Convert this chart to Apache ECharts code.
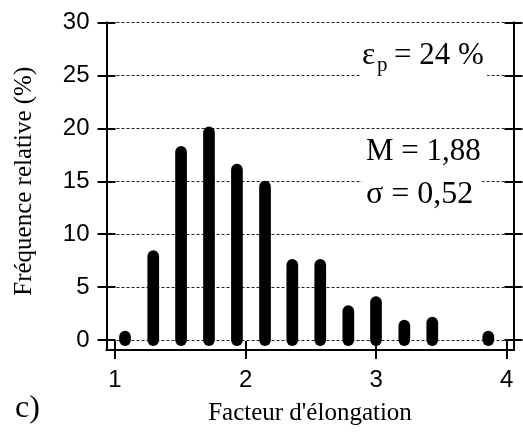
<!DOCTYPE html>
<html>
<head>
<meta charset="utf-8">
<script src="https://cdn.jsdelivr.net/npm/echarts@6/dist/echarts.min.js"></script>
<style>
html,body{margin:0;padding:0;background:#fff;}
#chart{width:523px;height:432px;}
</style>
</head>
<body>
<div id="chart"></div>
<script>
// ---- data ----
const elongation = [1.077, 1.293, 1.506, 1.720, 1.934, 2.149, 2.358, 2.572, 2.787, 2.999, 3.216, 3.430, 3.859];
const frequency  = [0.33, 7.92, 17.78, 19.62, 16.10, 14.49, 7.10, 7.10, 2.74, 3.59, 1.37, 1.65, 0.33];
const xTicks = [1, 2, 3, 4];
const yTicks = [0, 5, 10, 15, 20, 25, 30];
const xTitle = "Facteur d'élongation";
const yTitle = "Fréquence relative (%)";
const panelLabel = "c)";
const annotEps = ["ε", "p", "= 24 %"];
const annotM = "M = 1,88";
const annotS = "σ = 0,52";

const chart = echarts.init(document.getElementById('chart'), null, {renderer: 'canvas'});
const serif = "'Liberation Serif', 'Times New Roman', serif";
const sans = "'Liberation Sans', Arial, sans-serif";
const black = '#000';
const gridBox = {left: 106.5, right: 9.5, top: 22.5, bottom: 82};
const xMin = 0.935, xMax = 4.052, yMin = -0.94, yMax = 30;

function xAx(gi, inside, labels) {
  return {
    gridIndex: gi, type: 'value', min: xMin, max: xMax, position: 'bottom',
    axisLine: {show: true, onZero: false, lineStyle: {color: black, width: 2}},
    axisTick: {show: true, inside: inside, length: 9, customValues: xTicks, lineStyle: {color: black, width: 2}},
    axisLabel: {show: labels, customValues: xTicks, margin: 18, fontFamily: sans, fontSize: 24, color: black},
    splitLine: {show: false},
    name: labels ? xTitle : '', nameLocation: 'middle', nameGap: 51,
    nameTextStyle: {fontFamily: serif, fontSize: 25, color: black}
  };
}
function yAx(gi, pos, inside, labels, grid) {
  return {
    gridIndex: gi, type: 'value', min: yMin, max: yMax, position: pos,
    axisLine: {show: true, onZero: false, lineStyle: {color: black, width: 2}},
    axisTick: {show: true, inside: inside, length: 9, customValues: yTicks, lineStyle: {color: black, width: 2}},
    axisLabel: {show: labels, customValues: yTicks, margin: 17, fontFamily: sans, fontSize: 24, color: black},
    splitLine: {show: grid, lineStyle: {color: '#222', width: 1, type: [3, 2]}},
    name: labels ? yTitle : '', nameLocation: 'middle', nameGap: 70,
    nameTextStyle: {fontFamily: serif, fontSize: 25, color: black, padding: [0, 0, 0, 10]}
  };
}

const option = {
  animation: false,
  backgroundColor: '#fff',
  grid: [Object.assign({}, gridBox), Object.assign({}, gridBox)],
  xAxis: [xAx(0, false, true), xAx(1, true, false)],
  yAxis: [
    yAx(0, 'left', false, true, true),
    yAx(0, 'right', false, false, false),
    yAx(1, 'left', true, false, false),
    yAx(1, 'right', true, false, false)
  ],
  series: [{
    type: 'custom',
    xAxisIndex: 0, yAxisIndex: 0,
    data: elongation.map((x, i) => [x, frequency[i]]),
    renderItem: function (params, api) {
      const p0 = api.coord([api.value(0), 0]);
      const p1 = api.coord([api.value(0), api.value(1)]);
      return {
        type: 'line',
        shape: {x1: p0[0], y1: p0[1], x2: p1[0], y2: p1[1]},
        style: {stroke: black, lineWidth: 11.7, lineCap: 'round'}
      };
    },
    z: 5
  }],
  graphic: [
    {type: 'rect', shape: {x: 361, y: 42, width: 126, height: 40}, style: {fill: '#fff'}, z: 10},
    {type: 'text', x: 362, y: 66 - 0.34 * 32, style: {text: annotEps[0], font: '32px ' + serif, fill: black, verticalAlign: 'middle'}, z: 11},
    {type: 'text', x: 377, y: 73 - 0.34 * 21, style: {text: annotEps[1], font: '21px ' + serif, fill: black, verticalAlign: 'middle'}, z: 11},
    {type: 'text', x: 394, y: 66 - 0.34 * 31, style: {text: annotEps[2], font: '31px ' + serif, fill: black, verticalAlign: 'middle'}, z: 11},
    {type: 'rect', shape: {x: 362, y: 136, width: 120, height: 76}, style: {fill: '#fff'}, z: 10},
    {type: 'text', x: 366, y: 162.5 - 0.34 * 31, style: {text: annotM, font: '31px ' + serif, fill: black, verticalAlign: 'middle'}, z: 11},
    {type: 'text', x: 366, y: 205 - 0.34 * 32, style: {text: annotS, font: '32px ' + serif, fill: black, verticalAlign: 'middle'}, z: 11},
    {type: 'text', x: 15, y: 419 - 0.34 * 32, style: {text: panelLabel, font: '32px ' + serif, fill: black, verticalAlign: 'middle'}, z: 11}
  ]
};
chart.setOption(option);
</script>
</body>
</html>
